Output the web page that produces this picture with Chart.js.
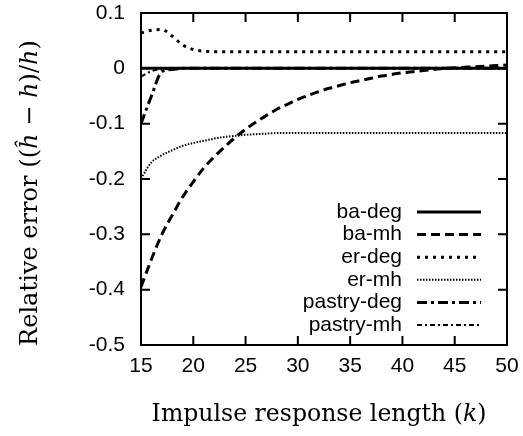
<!DOCTYPE html>
<html><head><meta charset="utf-8">
<script src="https://cdn.jsdelivr.net/npm/chart.js@4"></script>
<style>html,body{margin:0;padding:0;background:#fff;} canvas{display:block}</style>
</head><body>
<canvas id="c" width="523" height="436"></canvas>
<script>
const k = [15,16,17,18,19,20,21,22,23,24,25,26,27,28,29,30,31,32,33,34,35,36,37,38,39,40,41,42,43,44,45,46,47,48,49,50];
const baDeg = [0,0,0,0,0,0,0,0,0,0,0,0,0,0,0,0,0,0,0,0,0,0,0,0,0,0,0,0,0,0,0,0,0,0,0,0];
const baMh = [-0.395,-0.345,-0.300,-0.265,-0.232,-0.205,-0.180,-0.160,-0.142,-0.125,-0.110,-0.097,-0.085,-0.074,-0.065,-0.056,-0.049,-0.042,-0.036,-0.031,-0.026,-0.022,-0.018,-0.014,-0.011,-0.008,-0.006,-0.004,-0.002,0.000,0.001,0.002,0.003,0.004,0.005,0.006];
const erDeg = [0.064,0.069,0.070,0.058,0.042,0.034,0.031,0.030,0.030,0.030,0.030,0.030,0.030,0.030,0.030,0.030,0.030,0.030,0.030,0.030,0.030,0.030,0.030,0.030,0.030,0.030,0.030,0.030,0.030,0.030,0.030,0.030,0.030,0.030,0.030,0.030];
const erMh = [-0.199,-0.170,-0.157,-0.148,-0.140,-0.135,-0.131,-0.127,-0.124,-0.122,-0.120,-0.119,-0.118,-0.117,-0.117,-0.117,-0.117,-0.117,-0.117,-0.117,-0.117,-0.117,-0.117,-0.117,-0.117,-0.117,-0.117,-0.117,-0.117,-0.117,-0.117,-0.117,-0.117,-0.117,-0.117,-0.117];
const pastryDeg = [-0.100,-0.050,-0.006,-0.002,0,0,0,0,0,0,0,0,0,0,0,0,0,0,0,0,0,0,0,0,0,0,0,0,0,0,0,0,0,0,0,0];
const pastryMh = [-0.015,-0.005,-0.002,-0.001,0,0,0,0,0,0,0,0,0,0,0,0,0,0,0,0,0,0,0,0,0,0,0,0,0,0,0,0,0,0,0,0];
const seriesNames = ['ba-deg','ba-mh','er-deg','er-mh','pastry-deg','pastry-mh'];
const xTicks = [15,20,25,30,35,40,45,50];
const yTicks = [0.1,0,-0.1,-0.2,-0.3,-0.4,-0.5];

const seriesValues = [baDeg, baMh, erDeg, erMh, pastryDeg, pastryMh];
const styles = [
  {w:3, dash:[]},
  {w:3, dash:[9,5]},
  {w:3, dash:[3,5]},
  {w:2, dash:[1.5,1.5]},
  {w:3, dash:[10,4,3,4]},
  {w:2, dash:[5,3,2,3]}
];
const datasets = seriesNames.map((name,i)=>({
  label: name,
  data: k.map((x,j)=>({x:x, y:seriesValues[i][j]})),
  borderColor:'#000',
  borderWidth: styles[i].w,
  borderDash: styles[i].dash,
  borderCapStyle:'butt',
  pointRadius:0,
  fill:false,
  tension:0,
  cubicInterpolationMode:'monotone'
}));

const SANS = '"Liberation Sans", Arial, sans-serif';
const SERIF = '"DejaVu Serif", serif';
const FS = 21;

function drawMixed(ctx, segs, targetWidth) {
  const base = 20;
  let total0 = 0;
  segs.forEach(s=>{ctx.font=(s.i?'italic ':'')+base+'px '+SERIF; total0+=ctx.measureText(s.t).width;});
  const size = base*targetWidth/total0;
  let total = 0;
  const widths = segs.map(s=>{ctx.font=(s.i?'italic ':'')+size+'px '+SERIF; const w=ctx.measureText(s.t).width; total+=w; return w;});
  let x = -total/2;
  segs.forEach((s,idx)=>{ctx.font=(s.i?'italic ':'')+size+'px '+SERIF; ctx.fillText(s.t, x, 0); x+=widths[idx];});
}

const framePlugin = {
  id:'frame',
  afterDraw(chart){
    const ctx = chart.ctx, a = chart.chartArea;
    const xs = chart.scales.x, ys = chart.scales.y;
    ctx.save();
    ctx.strokeStyle='#000'; ctx.lineWidth=2; ctx.setLineDash([]);
    ctx.strokeRect(a.left, a.top, a.right-a.left, a.bottom-a.top);
    const TL = 9;
    ctx.beginPath();
    xTicks.forEach(v=>{const p=xs.getPixelForValue(v);
      ctx.moveTo(p,a.bottom); ctx.lineTo(p,a.bottom-TL);
      ctx.moveTo(p,a.top); ctx.lineTo(p,a.top+TL);});
    yTicks.forEach(v=>{const p=ys.getPixelForValue(v);
      ctx.moveTo(a.left,p); ctx.lineTo(a.left+TL,p);
      ctx.moveTo(a.right,p); ctx.lineTo(a.right-TL,p);});
    ctx.stroke();
    // legend
    ctx.font = FS+'px '+SANS; ctx.fillStyle='#000'; ctx.textAlign='right'; ctx.textBaseline='middle';
    chart.data.datasets.forEach((ds,i)=>{
      const y = 212 + i*22.6;
      ctx.fillText(ds.label, 402, y);
      ctx.beginPath(); ctx.lineWidth=ds.borderWidth; ctx.setLineDash(ds.borderDash); ctx.lineCap='butt';
      ctx.moveTo(417,y); ctx.lineTo(481,y); ctx.stroke();
    });
    ctx.setLineDash([]);
    // axis titles
    ctx.textAlign='left'; ctx.textBaseline='middle';
    ctx.save(); ctx.translate(319, 415);
    drawMixed(ctx,[{t:'Impulse response length (',i:false},{t:'k',i:true},{t:')',i:false}],335);
    ctx.restore();
    ctx.save(); ctx.translate(31, 193); ctx.rotate(-Math.PI/2);
    drawMixed(ctx,[{t:'Relative error ((',i:false},{t:'\u0125',i:true},{t:' \u2212 ',i:false},{t:'h',i:true},{t:')/',i:false},{t:'h',i:true},{t:')',i:false}],306);
    ctx.restore();
    ctx.restore();
  }
};

new Chart(document.getElementById('c'), {
  type:'line',
  data:{datasets},
  options:{
    responsive:false, animation:false, devicePixelRatio:1,
    layout:{padding:{top:13, right:16, left:0, bottom:0}},
    plugins:{legend:{display:false}, tooltip:{enabled:false}},
    scales:{
      x:{type:'linear', min:15, max:50,
        afterBuildTicks:s=>{s.ticks = xTicks.map(v=>({value:v}));},
        afterFit:s=>{s.height=91; s.paddingLeft=0; s.paddingRight=0;},
        grid:{display:false, drawTicks:false}, border:{display:false},
        ticks:{color:'#000', font:{family:SANS, size:FS}, padding:9, maxRotation:0, autoSkip:false, callback:v=>String(v)}
      },
      y:{type:'linear', min:-0.5, max:0.1,
        afterBuildTicks:s=>{s.ticks = yTicks.map(v=>({value:v}));},
        afterFit:s=>{s.width=141; s.paddingTop=0; s.paddingBottom=0;},
        grid:{display:false, drawTicks:false}, border:{display:false},
        ticks:{color:'#000', font:{family:SANS, size:FS}, padding:16, autoSkip:false, callback:v=>String(Math.round(v*10)/10)}
      }
    }
  },
  plugins:[framePlugin]
});
</script>
</body></html>
